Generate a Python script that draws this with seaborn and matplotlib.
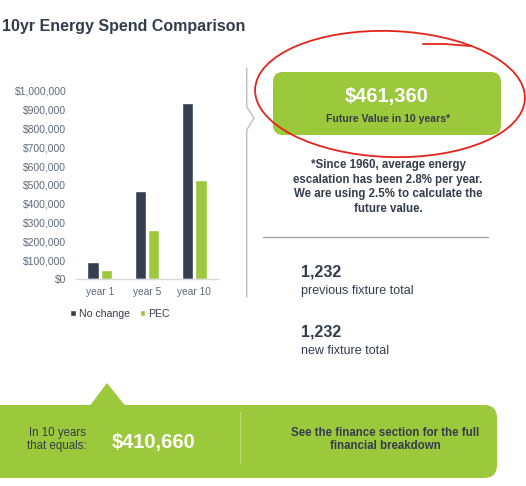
import matplotlib
matplotlib.use("Agg")
import matplotlib.pyplot as plt
from matplotlib.patches import FancyBboxPatch, Polygon, Ellipse, Patch
from matplotlib.ticker import FuncFormatter
import seaborn as sns
import pandas as pd

# ---- data ----
periods = ["year 1", "year 5", "year 10"]
no_change = [92000, 468000, 936000]
pec = [50000, 262000, 525340]
series_names = ["No change", "PEC"]
future_value = "$461,360"
savings_10yr = "$410,660"
prev_fixtures = "1,232"
new_fixtures = "1,232"

DARK = "#34404f"
GREEN = "#9cc83c"
TEXT = "#333d4b"
TICK = "#5d6b7c"

sns.set_theme(style="white")
plt.rcParams["font.family"] = ["Liberation Sans", "DejaVu Sans"]

df = pd.DataFrame({
    "period": periods * 2,
    "value": no_change + pec,
    "series": [series_names[0]] * 3 + [series_names[1]] * 3,
})

W, H = 526, 486
fig = plt.figure(figsize=(W / 100, H / 100), dpi=100)
fig.patch.set_facecolor("white")

# bar chart axes
ax = fig.add_axes([76 / W, 1 - 279 / H, 142 / W, (279 - 90.7) / H])
sns.barplot(data=df, x="period", y="value", hue="series",
            palette=[DARK, GREEN], width=0.56, gap=0.14,
            saturation=1, ax=ax, legend=False)
ax.set_ylim(0, 1_000_000)
ax.set_xlim(-0.5, 2.5)
ax.set_yticks(range(0, 1_000_001, 100_000))
ax.yaxis.set_major_formatter(FuncFormatter(lambda v, p: f"${v:,.0f}"))
ax.set_xlabel("")
ax.set_ylabel("")
for s in ["top", "right", "left"]:
    ax.spines[s].set_visible(False)
ax.spines["bottom"].set_color("#d9d9d9")
ax.spines["bottom"].set_linewidth(1.0)
ax.tick_params(axis="y", length=0, pad=7, labelsize=7.5, labelcolor=TICK)
ax.tick_params(axis="x", length=0, pad=6, labelsize=7.3, labelcolor=TICK)
ax.set_facecolor("none")
handles = [Patch(facecolor=DARK, label=series_names[0]),
           Patch(facecolor=GREEN, label=series_names[1])]
ax.legend(handles=handles, loc="center", bbox_to_anchor=((120 - 76) / 142, -0.185),
          ncol=2, frameon=False, fontsize=7.6, handlelength=0.55, handleheight=0.55,
          handletextpad=0.3, columnspacing=0.9, labelcolor=TEXT)

# overlay axes in pixel coordinates
ov = fig.add_axes([0, 0, 1, 1])
ov.set_xlim(0, W)
ov.set_ylim(H, 0)
ov.axis("off")
ov.patch.set_visible(False)

ov.text(2, 26, "10yr Energy Spend Comparison", fontsize=11.5, fontweight="bold",
        color=TEXT, va="center", ha="left")

# vertical divider with chevron
ov.plot([246.7, 246.7, 254, 246.7, 246.7], [68, 106.7, 118, 130, 297],
        color="#bfbfbf", lw=1.0, solid_joinstyle="miter")

# top green value box
ov.add_patch(FancyBboxPatch((273, 72), 228, 63,
                            boxstyle="round,pad=0,rounding_size=10",
                            facecolor=GREEN, edgecolor="none"))
ov.text(387, 96, future_value, fontsize=14.5, fontweight="bold", color="white",
        ha="center", va="center")
ov.text(388, 119, "Future Value in 10 years*", fontsize=7.6, fontweight="bold",
        color=TEXT, ha="center", va="center")

# red hand-drawn circle
ov.add_patch(Ellipse((390, 94), 270, 126, angle=2, facecolor="none",
                     edgecolor="#e3241b", lw=1.3))
ov.plot([423, 445, 470], [44, 44, 46], color="#e3241b", lw=1.3)

footnote = ["*Since 1960, average energy",
            "escalation has been 2.8% per year.",
            "We are using 2.5% to calculate the",
            "future value."]
for i, line in enumerate(footnote):
    ov.text(388, 165 + i * 14.5, line, fontsize=8.3, fontweight="bold",
            color=TEXT, ha="center", va="center")

ov.plot([263, 488], [237, 237], color="#a6a6a6", lw=1.0)

ov.text(301, 272, prev_fixtures, fontsize=11.5, fontweight="bold", color=TEXT,
        ha="left", va="center")
ov.text(301, 291, "previous fixture total", fontsize=9, color=TEXT,
        ha="left", va="center")
ov.text(301, 332, new_fixtures, fontsize=11.5, fontweight="bold", color=TEXT,
        ha="left", va="center")
ov.text(301, 351, "new fixture total", fontsize=9, color=TEXT,
        ha="left", va="center")

# bottom green band
ov.add_patch(FancyBboxPatch((-30, 405), 527, 73,
                            boxstyle="round,pad=0,rounding_size=13",
                            facecolor=GREEN, edgecolor="none"))
ov.add_patch(Polygon([(90, 405.5), (107, 383), (125, 405.5)], closed=True,
                     facecolor=GREEN, edgecolor="none"))
ov.plot([239.5, 239.5], [412, 463], color="#b9da6a", lw=1.0)
ov.text(57, 433, "In 10 years", fontsize=8.3, color=TEXT, ha="center", va="center")
ov.text(57, 446, "that equals:", fontsize=8.3, color=TEXT, ha="center", va="center")
ov.text(112, 442, savings_10yr, fontsize=14.5, fontweight="bold", color="white",
        ha="left", va="center")
ov.text(385, 433, "See the finance section for the full", fontsize=8.3,
        fontweight="bold", color=TEXT, ha="center", va="center")
ov.text(385, 446, "financial breakdown", fontsize=8.3,
        fontweight="bold", color=TEXT, ha="center", va="center")

fig.savefig("out.png", dpi=100)
